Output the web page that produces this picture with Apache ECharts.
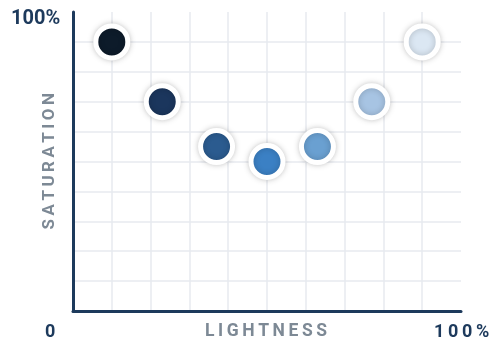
<!DOCTYPE html>
<html>
<head>
<meta charset="utf-8">
<script src="https://cdn.jsdelivr.net/npm/echarts@6/dist/echarts.min.js"></script>
<style>
  html, body { margin: 0; padding: 0; background: #fff; }
  #chart { width: 492px; height: 341px; }
</style>
</head>
<body>
<div id="chart"></div>
<script>
// lightness (x) and saturation (y), in percent
const lightness = [10, 23, 37, 50, 63, 77, 90]
const saturation = [90, 70, 55, 50, 55, 70, 90]
const dotColors = ['#0d1b2a', '#1b365d', '#2b5b8f', '#3b80c4', '#6aa0d1', '#a7c4e3', '#dbe7f3']

const navy = '#1d3a5c'
const grey = '#7d8995'

// a little letter spacing, echarts text has none
const spaced = (s, sp) => s.split('').join(sp)

const chart = echarts.init(document.getElementById('chart'))
chart.setOption({
  animation: false,
  grid: { left: 73, right: 31, top: 12, bottom: 30 },
  xAxis: {
    type: 'value', min: 0, max: 100, interval: 10,
    axisLine: { show: true, onZero: false, lineStyle: { color: navy, width: 3 } },
    axisTick: { show: false },
    axisLabel: { show: false },
    splitLine: { showMinLine: false, showMaxLine: false, lineStyle: { color: '#e7eaef', width: 1.5 } }
  },
  yAxis: {
    type: 'value', min: 0, max: 100, interval: 10,
    axisLine: { show: true, onZero: false, lineStyle: { color: navy, width: 3 } },
    axisTick: { show: false },
    axisLabel: { show: false },
    splitLine: { showMinLine: false, showMaxLine: false, lineStyle: { color: '#e7eaef', width: 1.5 } }
  },
  graphic: [
    { type: 'text', left: 11, top: 9, style: { text: '100%', font: 'bold 20px Roboto', fill: navy } },
    { type: 'text', left: 45, top: 323, style: { text: '0', font: 'bold 18px Roboto', fill: navy } },
    { type: 'text', left: 434, top: 323, style: { text: spaced('100%', '\u2009'), font: 'bold 18px Roboto', fill: navy } },
    { type: 'text', left: 205, top: 323, style: { text: spaced('LIGHTNESS', '\u2009'), font: 'bold 17.5px Roboto', fill: grey } },
    { type: 'text', left: 41, top: 93, rotation: Math.PI / 2,
      style: { text: spaced('SATURATION', '\u2009'), font: 'bold 17px Roboto', fill: grey } }
  ],
  series: [{
    type: 'scatter',
    symbolSize: 32,
    data: lightness.map((l, i) => ({
      value: [l, saturation[i]],
      itemStyle: { color: dotColors[i] }
    })),
    itemStyle: {
      opacity: 1,
      borderColor: '#fff', borderWidth: 5,
      shadowBlur: 6, shadowColor: 'rgba(0,0,0,0.2)'
    }
  }]
})
</script>
</body>
</html>
